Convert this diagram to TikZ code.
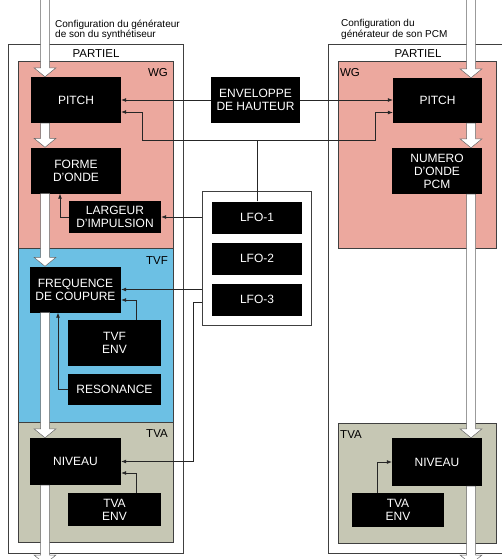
\documentclass[tikz,border=0pt]{standalone}
\usepackage{fontspec}
\setmainfont{Liberation Sans}
\usepackage{tikz}
\usetikzlibrary{arrows.meta, positioning, calc, fit, backgrounds}

\definecolor{wgpink}{RGB}{236,168,158}
\definecolor{tvfblue}{RGB}{108,192,228}
\definecolor{tvagray}{RGB}{198,199,180}

\newcommand{\flowarrow}[2]{%
  \filldraw[flow] let \p1=#1, \p2=#2 in
    (\x1-4.5pt,\y1) -- (\x1-4.5pt,\y2+9pt) -- (\x1-11pt,\y2+9pt) -- (\x1,\y2)
    -- (\x1+11pt,\y2+9pt) -- (\x1+4.5pt,\y2+9pt) -- (\x1+4.5pt,\y1) -- cycle;}

\begin{document}
\begin{tikzpicture}[
  x=1pt, y=-1pt,
  font=\fontsize{12}{13}\selectfont,
  unit/.style={fill=black, text=white, align=center, inner sep=0pt, minimum width=90pt, minimum height=46pt},
  short/.style={unit, minimum width=92pt, minimum height=32pt},
  lbl/.style={font=\fontsize{11.5}{12}\selectfont, inner sep=0pt},
  cfg/.style={font=\fontsize{10}{10.5}\selectfont, align=left, inner sep=0pt, anchor=north west},
  zone/.style={draw=black!75, line width=0.7pt},
  arr/.style={-{Latex[length=5pt, width=4pt]}, line width=0.7pt, draw=black!85},
  flow/.style={fill=white, draw=black!60, line width=0.5pt}
]
\useasboundingbox (0,0) rectangle (502,559);

\node[unit] (pitchL) at (76,100) {PITCH};
\node[unit] (forme) at (76,170.5) {FORME\\D’ONDE};
\node[short] (largeur) at (115,217) {LARGEUR\\D’IMPULSION};
\node[unit, minimum width=91pt] (freq) at (75.5,289.5) {FREQUENCE\\DE COUPURE};
\node[unit, minimum width=93pt] (tvfenv) at (114.5,343) {TVF\\ENV};
\node[short, minimum width=93pt, minimum height=31pt] (reso) at (114.5,389.5) {RESONANCE};
\node[unit, minimum width=91pt, minimum height=47pt] (nivL) at (75.5,461.5) {NIVEAU};
\node[short, minimum width=93pt, minimum height=33pt] (tvaenvL) at (114.5,509.5) {TVA\\ENV};

\node[unit, minimum width=89pt] (env) at (255.5,100) {ENVELOPPE\\DE HAUTEUR};
\node[short, minimum width=90pt] (lfo1) at (257,217.5) {LFO-1};
\node[short, minimum width=90pt] (lfo2) at (257,258.5) {LFO-2};
\node[short, minimum width=90pt] (lfo3) at (257,299.5) {LFO-3};

\node[unit, minimum width=89pt, minimum height=45pt] (pitchR) at (437.5,100.5) {PITCH};
\node[unit] (numero) at (437,171) {NUMERO\\D’ONDE\\PCM};
\node[unit, minimum height=48pt] (nivR) at (437,462) {NIVEAU};
\node[short, minimum height=34pt] (tvaenvR) at (398,510) {TVA\\ENV};

\begin{scope}[on background layer]
  \filldraw[zone, fill=wgpink] (18,61) rectangle (173,248);
  \filldraw[zone, fill=tvfblue] (18,248) rectangle (173,422);
  \filldraw[zone, fill=tvagray] (18,422) rectangle (173,542);
  \draw[zone] (8,44) rectangle (183,553);
  \draw[zone] (328,44) rectangle (512,553);
  \filldraw[zone, fill=wgpink] (338,61) rectangle (496,248);
  \filldraw[zone, fill=tvagray] (338,423) rectangle (496,543);
  \node[zone, fill=white, fit=(lfo1)(lfo3), inner xsep=9pt, inner ysep=10pt] (lfobox) {};
\end{scope}

\node[cfg] (cfgL) at (55,19.5) {Configuration du générateur\\de son du synthétiseur};
\node[cfg] (cfgR) at (341,19.5) {Configuration du\\générateur de son PCM};
\node[lbl] (partL) at (96,54) {PARTIEL};
\node[lbl] (partR) at (418,54) {PARTIEL};
\node[lbl] (wgL) at (158,73) {WG};
\node[lbl] (wgR) at (350,73) {WG};
\node[lbl] (tvf) at (157,261) {TVF};
\node[lbl] (tvaL) at (157,434) {TVA};
\node[lbl] (tvaR) at (351,435) {TVA};

\coordinate (inL) at (45,-5);
\coordinate (outL) at (45,564);
\coordinate (inR) at (471,-5);
\coordinate (outR) at (471,564);

\flowarrow{(inL)}{(pitchL.north)}
\flowarrow{([xshift=-31pt]pitchL.south)}{(forme.north)}
\flowarrow{([xshift=-31pt]forme.south)}{(freq.north)}
\flowarrow{([xshift=-30.5pt]freq.south)}{(nivL.north)}
\flowarrow{([xshift=-30.5pt]nivL.south)}{(outL)}
\flowarrow{(inR)}{(pitchR.north)}
\flowarrow{([xshift=33.5pt]pitchR.south)}{(numero.north)}
\flowarrow{([xshift=34pt]numero.south)}{(nivR.north)}
\flowarrow{([xshift=34pt]nivR.south)}{(outR)}

\draw[arr] (env.west) -- (pitchL.east);
\draw[arr] (env.east) -- (pitchR.west |- env.east);
\draw[arr] (lfo1.north) |- (142,140) |- ([yshift=-12pt]pitchL.east);
\draw[arr] (lfo1.north) |- (375,140) |- ([yshift=-12pt]pitchR.west);
\draw[arr] (lfobox.west |- largeur.east) -- (largeur.east);
\draw[arr] (largeur.west) -| ([xshift=-16pt]forme.south);
\draw[arr] (lfobox.west |- freq.east) -- (freq.east);
\draw[arr] ([xshift=21.5pt]tvfenv.north) |- ([yshift=-10.5pt]freq.east);
\draw[arr] (reso.west) -| ([xshift=-17.5pt]freq.south);
\draw[arr] ([yshift=-3pt]lfobox.west |- lfo3) -| ([xshift=72pt]nivL.east) -- (nivL.east);
\draw[arr] ([xshift=21.5pt]tvaenvL.north) |- ([yshift=-11.5pt]nivL.east);
\draw[arr] ([xshift=-21pt]tvaenvR.north) |- (nivR.west);
\end{tikzpicture}
\end{document}
